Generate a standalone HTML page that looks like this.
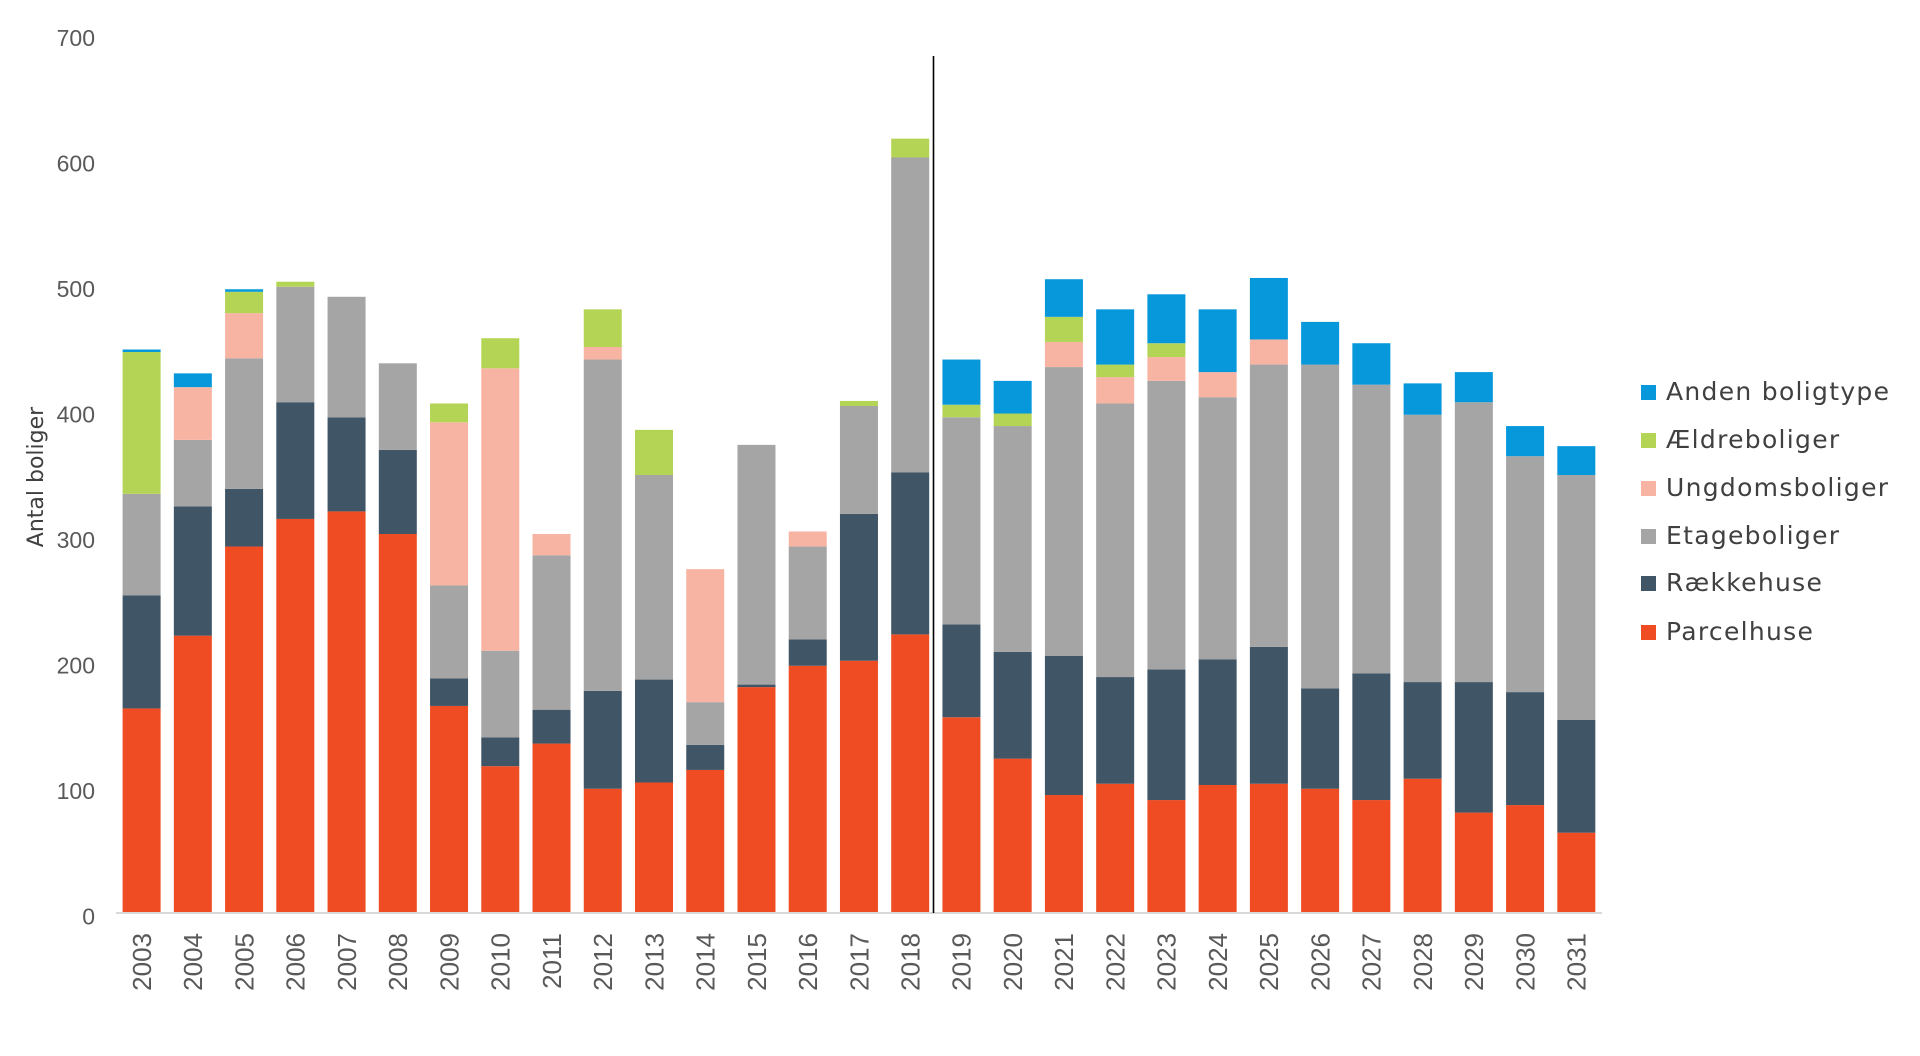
<!DOCTYPE html>
<html>
<head>
<meta charset="utf-8">
<style>
html,body{margin:0;padding:0;background:#ffffff;}
svg{display:block;}
.tick{font-family:"Liberation Sans",sans-serif;font-size:23px;fill:#595959;}
.yr{font-family:"Liberation Sans",sans-serif;font-size:26px;fill:#595959;}
.ttl{font-family:"DejaVu Sans","Liberation Sans",sans-serif;font-size:22px;fill:#404040;}
.leg{font-family:"DejaVu Sans","Liberation Sans",sans-serif;font-size:25px;fill:#404040;letter-spacing:1.3px;}
</style>
</head>
<body>
<svg width="1920" height="1056" viewBox="0 0 1920 1056" xmlns="http://www.w3.org/2000/svg">
<rect x="0" y="0" width="1920" height="1056" fill="#ffffff"/>

<g transform="translate(0,913) scale(1,-1.255)">
 <g fill="#ef4c23">
  <rect x="122.6" y="0" width="38" height="163"/>
  <rect x="173.84" y="0" width="38" height="221"/>
  <rect x="225.08" y="0" width="38" height="292"/>
  <rect x="276.32" y="0" width="38" height="314"/>
  <rect x="327.56" y="0" width="38" height="320"/>
  <rect x="378.8" y="0" width="38" height="302"/>
  <rect x="430.04" y="0" width="38" height="165"/>
  <rect x="481.28" y="0" width="38" height="117"/>
  <rect x="532.52" y="0" width="38" height="135"/>
  <rect x="583.76" y="0" width="38" height="99"/>
  <rect x="635.0" y="0" width="38" height="104"/>
  <rect x="686.24" y="0" width="38" height="114"/>
  <rect x="737.48" y="0" width="38" height="180"/>
  <rect x="788.72" y="0" width="38" height="197"/>
  <rect x="839.96" y="0" width="38" height="201"/>
  <rect x="891.2" y="0" width="38" height="222"/>
  <rect x="942.44" y="0" width="38" height="156"/>
  <rect x="993.68" y="0" width="38" height="123"/>
  <rect x="1044.92" y="0" width="38" height="94"/>
  <rect x="1096.16" y="0" width="38" height="103"/>
  <rect x="1147.4" y="0" width="38" height="90"/>
  <rect x="1198.64" y="0" width="38" height="102"/>
  <rect x="1249.88" y="0" width="38" height="103"/>
  <rect x="1301.12" y="0" width="38" height="99"/>
  <rect x="1352.36" y="0" width="38" height="90"/>
  <rect x="1403.6" y="0" width="38" height="107"/>
  <rect x="1454.84" y="0" width="38" height="80"/>
  <rect x="1506.08" y="0" width="38" height="86"/>
  <rect x="1557.32" y="0" width="38" height="64"/>
 </g>
 <g fill="#405566">
  <rect x="122.6" y="163" width="38" height="90"/>
  <rect x="173.84" y="221" width="38" height="103"/>
  <rect x="225.08" y="292" width="38" height="46"/>
  <rect x="276.32" y="314" width="38" height="93"/>
  <rect x="327.56" y="320" width="38" height="75"/>
  <rect x="378.8" y="302" width="38" height="67"/>
  <rect x="430.04" y="165" width="38" height="22"/>
  <rect x="481.28" y="117" width="38" height="23"/>
  <rect x="532.52" y="135" width="38" height="27"/>
  <rect x="583.76" y="99" width="38" height="78"/>
  <rect x="635.0" y="104" width="38" height="82"/>
  <rect x="686.24" y="114" width="38" height="20"/>
  <rect x="737.48" y="180" width="38" height="2"/>
  <rect x="788.72" y="197" width="38" height="21"/>
  <rect x="839.96" y="201" width="38" height="117"/>
  <rect x="891.2" y="222" width="38" height="129"/>
  <rect x="942.44" y="156" width="38" height="74"/>
  <rect x="993.68" y="123" width="38" height="85"/>
  <rect x="1044.92" y="94" width="38" height="111"/>
  <rect x="1096.16" y="103" width="38" height="85"/>
  <rect x="1147.4" y="90" width="38" height="104"/>
  <rect x="1198.64" y="102" width="38" height="100"/>
  <rect x="1249.88" y="103" width="38" height="109"/>
  <rect x="1301.12" y="99" width="38" height="80"/>
  <rect x="1352.36" y="90" width="38" height="101"/>
  <rect x="1403.6" y="107" width="38" height="77"/>
  <rect x="1454.84" y="80" width="38" height="104"/>
  <rect x="1506.08" y="86" width="38" height="90"/>
  <rect x="1557.32" y="64" width="38" height="90"/>
 </g>
 <g fill="#a5a5a5">
  <rect x="122.6" y="253" width="38" height="81"/>
  <rect x="173.84" y="324" width="38" height="53"/>
  <rect x="225.08" y="338" width="38" height="104"/>
  <rect x="276.32" y="407" width="38" height="92"/>
  <rect x="327.56" y="395" width="38" height="96"/>
  <rect x="378.8" y="369" width="38" height="69"/>
  <rect x="430.04" y="187" width="38" height="74"/>
  <rect x="481.28" y="140" width="38" height="69"/>
  <rect x="532.52" y="162" width="38" height="123"/>
  <rect x="583.76" y="177" width="38" height="264"/>
  <rect x="635.0" y="186" width="38" height="163"/>
  <rect x="686.24" y="134" width="38" height="34"/>
  <rect x="737.48" y="182" width="38" height="191"/>
  <rect x="788.72" y="218" width="38" height="74"/>
  <rect x="839.96" y="318" width="38" height="86"/>
  <rect x="891.2" y="351" width="38" height="251"/>
  <rect x="942.44" y="230" width="38" height="165"/>
  <rect x="993.68" y="208" width="38" height="180"/>
  <rect x="1044.92" y="205" width="38" height="230"/>
  <rect x="1096.16" y="188" width="38" height="218"/>
  <rect x="1147.4" y="194" width="38" height="230"/>
  <rect x="1198.64" y="202" width="38" height="209"/>
  <rect x="1249.88" y="212" width="38" height="225"/>
  <rect x="1301.12" y="179" width="38" height="258"/>
  <rect x="1352.36" y="191" width="38" height="230"/>
  <rect x="1403.6" y="184" width="38" height="213"/>
  <rect x="1454.84" y="184" width="38" height="223"/>
  <rect x="1506.08" y="176" width="38" height="188"/>
  <rect x="1557.32" y="154" width="38" height="195"/>
 </g>
 <g fill="#f8b4a3">
  <rect x="173.84" y="377" width="38" height="42"/>
  <rect x="225.08" y="442" width="38" height="36"/>
  <rect x="430.04" y="261" width="38" height="130"/>
  <rect x="481.28" y="209" width="38" height="225"/>
  <rect x="532.52" y="285" width="38" height="17"/>
  <rect x="583.76" y="441" width="38" height="10"/>
  <rect x="686.24" y="168" width="38" height="106"/>
  <rect x="788.72" y="292" width="38" height="12"/>
  <rect x="1044.92" y="435" width="38" height="20"/>
  <rect x="1096.16" y="406" width="38" height="21"/>
  <rect x="1147.4" y="424" width="38" height="19"/>
  <rect x="1198.64" y="411" width="38" height="20"/>
  <rect x="1249.88" y="437" width="38" height="20"/>
 </g>
 <g fill="#b4d455">
  <rect x="122.6" y="334" width="38" height="113"/>
  <rect x="225.08" y="478" width="38" height="17"/>
  <rect x="276.32" y="499" width="38" height="4"/>
  <rect x="430.04" y="391" width="38" height="15"/>
  <rect x="481.28" y="434" width="38" height="24"/>
  <rect x="583.76" y="451" width="38" height="30"/>
  <rect x="635.0" y="349" width="38" height="36"/>
  <rect x="839.96" y="404" width="38" height="4"/>
  <rect x="891.2" y="602" width="38" height="15"/>
  <rect x="942.44" y="395" width="38" height="10"/>
  <rect x="993.68" y="388" width="38" height="10"/>
  <rect x="1044.92" y="455" width="38" height="20"/>
  <rect x="1096.16" y="427" width="38" height="10"/>
  <rect x="1147.4" y="443" width="38" height="11"/>
 </g>
 <g fill="#0798dc">
  <rect x="122.6" y="447" width="38" height="2"/>
  <rect x="173.84" y="419" width="38" height="11"/>
  <rect x="225.08" y="495" width="38" height="2"/>
  <rect x="942.44" y="405" width="38" height="36"/>
  <rect x="993.68" y="398" width="38" height="26"/>
  <rect x="1044.92" y="475" width="38" height="30"/>
  <rect x="1096.16" y="437" width="38" height="44"/>
  <rect x="1147.4" y="454" width="38" height="39"/>
  <rect x="1198.64" y="431" width="38" height="50"/>
  <rect x="1249.88" y="457" width="38" height="49"/>
  <rect x="1301.12" y="437" width="38" height="34"/>
  <rect x="1352.36" y="421" width="38" height="33"/>
  <rect x="1403.6" y="397" width="38" height="25"/>
  <rect x="1454.84" y="407" width="38" height="24"/>
  <rect x="1506.08" y="364" width="38" height="24"/>
  <rect x="1557.32" y="349" width="38" height="23"/>
 </g>
</g>

<line x1="116" y1="913" x2="1602" y2="913" stroke="#d9d9d9" stroke-width="2"/>
<line x1="933.5" y1="56" x2="933.5" y2="913" stroke="#000000" stroke-width="1.6"/>

<g class="tick" text-anchor="end">
 <text x="95" y="924.5">0</text>
 <text x="95" y="799">100</text>
 <text x="95" y="673.5">200</text>
 <text x="95" y="548">300</text>
 <text x="95" y="422.5">400</text>
 <text x="95" y="297">500</text>
 <text x="95" y="171.5">600</text>
 <text x="95" y="46">700</text>
</g>

<text class="ttl" text-anchor="middle" transform="translate(43,477) rotate(-90)">Antal boliger</text>

<g class="yr" text-anchor="end">
 <text transform="translate(150.9,933) rotate(-90)">2003</text>
 <text transform="translate(202.1,933) rotate(-90)">2004</text>
 <text transform="translate(253.4,933) rotate(-90)">2005</text>
 <text transform="translate(304.6,933) rotate(-90)">2006</text>
 <text transform="translate(355.9,933) rotate(-90)">2007</text>
 <text transform="translate(407.1,933) rotate(-90)">2008</text>
 <text transform="translate(458.3,933) rotate(-90)">2009</text>
 <text transform="translate(509.6,933) rotate(-90)">2010</text>
 <text transform="translate(560.8,933) rotate(-90)">2011</text>
 <text transform="translate(612.1,933) rotate(-90)">2012</text>
 <text transform="translate(663.3,933) rotate(-90)">2013</text>
 <text transform="translate(714.5,933) rotate(-90)">2014</text>
 <text transform="translate(765.8,933) rotate(-90)">2015</text>
 <text transform="translate(817.0,933) rotate(-90)">2016</text>
 <text transform="translate(868.3,933) rotate(-90)">2017</text>
 <text transform="translate(919.5,933) rotate(-90)">2018</text>
 <text transform="translate(970.7,933) rotate(-90)">2019</text>
 <text transform="translate(1022.0,933) rotate(-90)">2020</text>
 <text transform="translate(1073.2,933) rotate(-90)">2021</text>
 <text transform="translate(1124.5,933) rotate(-90)">2022</text>
 <text transform="translate(1175.7,933) rotate(-90)">2023</text>
 <text transform="translate(1226.9,933) rotate(-90)">2024</text>
 <text transform="translate(1278.2,933) rotate(-90)">2025</text>
 <text transform="translate(1329.4,933) rotate(-90)">2026</text>
 <text transform="translate(1380.7,933) rotate(-90)">2027</text>
 <text transform="translate(1431.9,933) rotate(-90)">2028</text>
 <text transform="translate(1483.1,933) rotate(-90)">2029</text>
 <text transform="translate(1534.4,933) rotate(-90)">2030</text>
 <text transform="translate(1585.6,933) rotate(-90)">2031</text>
</g>

<rect x="1641" y="385" width="15" height="15" fill="#0798dc"/>
<text class="leg" x="1666" y="400">Anden boligtype</text>
<rect x="1641" y="433" width="15" height="15" fill="#b4d455"/>
<text class="leg" x="1666" y="448">Ældreboliger</text>
<rect x="1641" y="481" width="15" height="15" fill="#f8b4a3"/>
<text class="leg" x="1666" y="496">Ungdomsboliger</text>
<rect x="1641" y="529" width="15" height="15" fill="#a5a5a5"/>
<text class="leg" x="1666" y="544">Etageboliger</text>
<rect x="1641" y="576" width="15" height="15" fill="#405566"/>
<text class="leg" x="1666" y="591">Rækkehuse</text>
<rect x="1641" y="625" width="15" height="15" fill="#ef4c23"/>
<text class="leg" x="1666" y="640">Parcelhuse</text>
</svg>
</body>
</html>
